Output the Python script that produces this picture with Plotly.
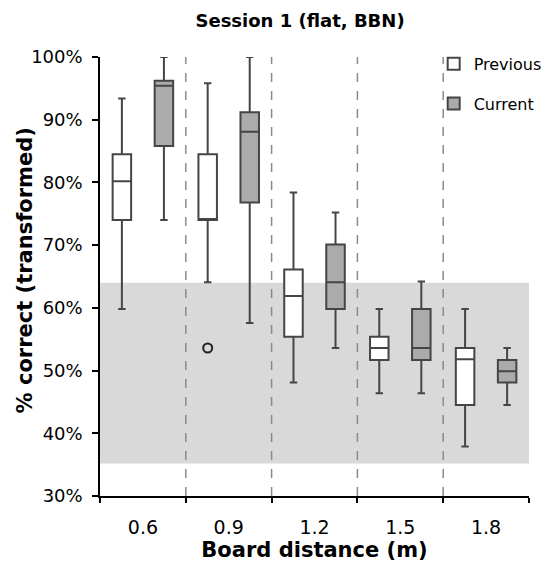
import plotly.graph_objects as go

categories = ["0.6", "0.9", "1.2", "1.5", "1.8"]

prev_lower = [59.8, 64.1, 48.1, 46.4, 37.9]
prev_q1 = [74.0, 74.0, 55.4, 51.7, 44.5]
prev_median = [80.2, 74.0, 61.9, 53.6, 51.8]
prev_q3 = [84.5, 84.5, 66.1, 55.4, 53.6]
prev_upper = [93.4, 95.8, 78.4, 59.8, 59.8]

outlier_x = ["0.9"]
outlier_y = [53.6]

cur_lower = [74.0, 57.6, 53.6, 46.4, 44.5]
cur_q1 = [85.8, 76.8, 59.8, 51.7, 48.1]
cur_median = [95.4, 88.1, 64.1, 53.6, 49.9]
cur_q3 = [96.2, 91.2, 70.1, 59.8, 51.7]
cur_upper = [100.0, 100.0, 75.2, 64.2, 53.6]

band_low, band_high = 35.2, 64.0
y_min, y_max, y_step = 30, 100, 10

FONT = "DejaVu Sans"
LINE = "#454545"

fig = go.Figure()
fig.add_trace(go.Box(
    name="Previous", x=categories,
    q1=prev_q1, median=prev_median, q3=prev_q3,
    lowerfence=prev_lower, upperfence=prev_upper,
    fillcolor="white", offsetgroup="prev",
    line=dict(color=LINE, width=2), whiskerwidth=0.4,
    legendgroup="a", hoverinfo="skip",
))
fig.add_trace(go.Box(
    name="Current", x=categories,
    q1=cur_q1, median=cur_median, q3=cur_q3,
    lowerfence=cur_lower, upperfence=cur_upper,
    fillcolor="#ababab", offsetgroup="cur",
    line=dict(color=LINE, width=2), whiskerwidth=0.4,
    legendgroup="b", hoverinfo="skip",
))
# outliers, grouped the same way as the boxes
fig.add_trace(go.Scatter(
    x=outlier_x, y=outlier_y, mode="markers", offsetgroup="prev",
    marker=dict(symbol="circle-open", size=9, color="#222222", line=dict(width=2)),
    showlegend=False, hoverinfo="skip",
))
fig.add_trace(go.Scatter(
    x=outlier_x, y=[None], mode="markers", offsetgroup="cur",
    showlegend=False, hoverinfo="skip",
))

# chance band
fig.add_shape(type="rect", xref="paper", yref="y", x0=0, x1=1,
              y0=band_low, y1=band_high, fillcolor="#d9d9d9",
              line=dict(width=0), layer="below")
# dashed dividers between categories
for i in range(len(categories) - 1):
    fig.add_shape(type="line", xref="x", yref="paper", x0=i + 0.5, x1=i + 0.5,
                  y0=0, y1=1.0, line=dict(color="#8a8a8a", width=1.5, dash="dash"),
                  layer="below")

# y-axis title (placed as rotated text so it can sit close to the tick labels)
fig.add_annotation(text="<b>% correct (transformed)</b>", textangle=-90,
                   xref="paper", yref="paper", x=-0.176, y=0.515,
                   xanchor="center", yanchor="middle", showarrow=False,
                   font=dict(size=21))

fig.update_layout(
    width=550, height=564,
    margin=dict(l=92, r=28, t=49, b=76),
    plot_bgcolor="rgba(0,0,0,0)", paper_bgcolor="white",
    boxmode="group", boxgap=0.02, boxgroupgap=0.56,
    scattermode="group", scattergap=0.02,
    font=dict(family=FONT, color="black"),
    title=dict(text="<b>Session 1 (flat, BBN)</b>", x=0.531, xanchor="center",
               y=0.977, yanchor="middle", font=dict(size=18)),
    legend=dict(x=0.776, xanchor="left", y=1.023, yanchor="top",
                traceorder="grouped", tracegroupgap=16,
                font=dict(size=16), bgcolor="rgba(0,0,0,0)"),
    xaxis=dict(
        type="category", range=[-0.5, 4.5], tickson="boundaries",
        ticks="outside", ticklen=5, tickwidth=1.5, tickcolor="black",
        showline=True, linecolor="black", linewidth=1.5,
        showgrid=False, zeroline=False, automargin=False,
        tickfont=dict(size=19), ticklabelstandoff=13,
        title=dict(text="<b>Board distance (m)</b>", font=dict(size=21), standoff=6),
    ),
    yaxis=dict(
        range=[y_min, y_max], tickmode="linear", tick0=y_min, dtick=y_step,
        ticksuffix="%",
        ticks="outside", ticklen=6, tickwidth=1.5, tickcolor="black",
        showline=True, linecolor="black", linewidth=1.5,
        showgrid=False, zeroline=False, automargin=False,
        tickfont=dict(size=18), ticklabelstandoff=6,
    ),
)

fig.write_html("out.html")
